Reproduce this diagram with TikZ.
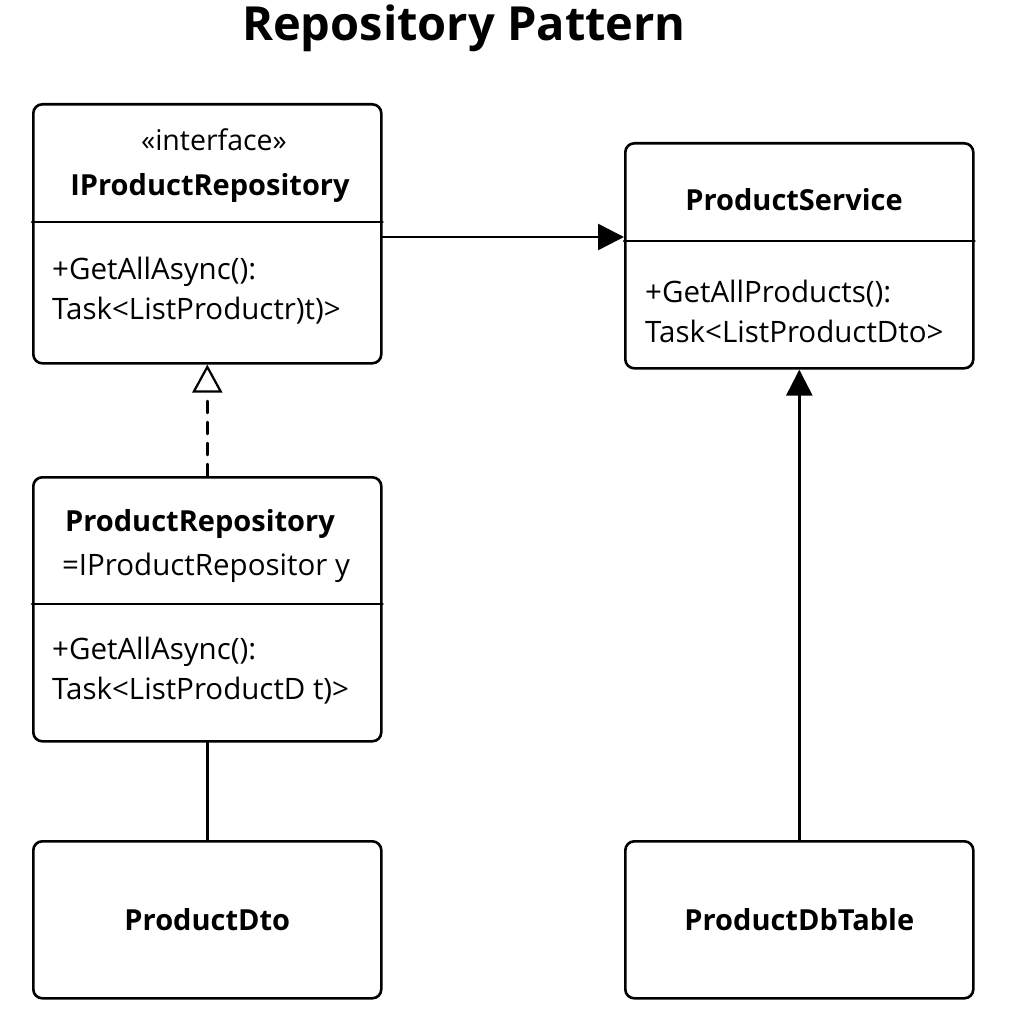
\documentclass[tikz,border=0pt]{standalone}
\usepackage{fontspec}
\setmainfont{Open Sans}
\usetikzlibrary{arrows.meta}

\tikzset{
  umlbox/.style={draw, line width=2.6pt, rounded corners=9pt, minimum width=348pt, anchor=north west, inner sep=0pt},
  classname/.style={font=\bfseries\fontsize{29}{34}\selectfont},
  member/.style={font=\fontsize{29.5}{40}\selectfont, anchor=west, align=left, inner sep=0pt},
  link/.style={line width=2.5pt},
}

\begin{document}
\begin{tikzpicture}[x=1pt, y=-1pt, line cap=round, line join=round]
\useasboundingbox (0,0) rectangle (1024,1024);

% Title
\node[font=\bfseries\fontsize{47}{54}\selectfont] (title) at (464,28) {Repository Pattern};

% IProductRepository
\node[umlbox, minimum height=259pt] (iface) at (32,103) {};
\node[font=\fontsize{28.5}{32}\selectfont] (ifaceStereo) at (214,140) {«interface»};
\node[classname] (ifaceName) at (210,188) {IProductRepository};
\draw[link] (iface.west |- 0,222) -- (iface.east |- 0,222);
\node[member] (ifaceOps) at (52,291) {+GetAllAsync():\\Task<ListProductr)t)>};

% ProductService
\node[umlbox, minimum height=225pt] (service) at (624,142) {};
\node[classname] (serviceName) at (794,200) {ProductService};
\draw[link] (service.west |- 0,241) -- (service.east |- 0,241);
\node[member] (serviceOps) at (645,311) {+GetAllProducts():\\Task<ListProductDto>};

% ProductRepository
\node[umlbox, minimum height=264pt] (repo) at (32,476) {};
\node[classname] (repoName) at (200,524) {ProductRepository};
\node[font=\fontsize{29.5}{34}\selectfont] (repoBase) at (206,568) {=IProductRepositor y};
\draw[link] (repo.west |- 0,604) -- (repo.east |- 0,604);
\node[member] (repoOps) at (52,671) {+GetAllAsync():\\Task<ListProductD t)>};

% ProductDto / ProductDbTable
\node[umlbox, minimum height=157pt] (dto) at (32,840) {};
\node[classname] at (dto.center) {ProductDto};
\node[umlbox, minimum height=157pt] (dbtable) at (624,840) {};
\node[classname] at (dbtable.center) {ProductDbTable};

% Connections
\draw[link, -{Triangle[length=26pt, width=26pt]}] (iface.east |- 0,237) -- (service.west |- 0,237);
\draw[link, dash pattern=on 12pt off 9pt, -{Triangle[open, length=28pt, width=30pt, line width=2.2pt]}] (repo.north) -- (iface.south);
\draw[link] (dto.north) -- (repo.south);
\draw[link, -{Triangle[length=26pt, width=26pt]}] (dbtable.north) -- (service.south);

\end{tikzpicture}
\end{document}
